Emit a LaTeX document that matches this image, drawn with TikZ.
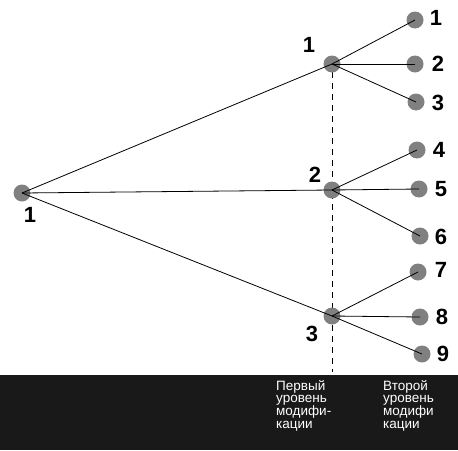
\documentclass[tikz,border=0pt]{standalone}
\usepackage{fontspec}
\setmainfont{Liberation Sans}
\begin{document}
\begin{tikzpicture}[x=1pt,y=-1pt,
  dot/.style={circle,fill=black!50,inner sep=0pt,minimum size=17pt},
  num/.style={font=\fontsize{22}{22}\selectfont\bfseries,inner sep=0pt},
  captext/.style={font=\fontsize{13.5}{12.6}\selectfont,text=white,align=left,anchor=north west,inner sep=0pt},
  edge/.style={draw=black,line width=0.8pt}]
\useasboundingbox (0,0) rectangle (458,450);
\fill[black!90] (0,375) rectangle (458,450);
\coordinate (dtop) at (332,72);
\coordinate (dbot) at (332,372);
\draw[line width=0.8pt,dash pattern=on 6pt off 5pt] (dtop) -- (dbot);
\node[dot] (r) at (22,193) {};
\node[dot] (a) at (332,64) {};
\node[dot] (b) at (332,190) {};
\node[dot] (c) at (332,316) {};
\node[dot] (l1) at (415,20) {};
\node[dot] (l2) at (415,64) {};
\node[dot] (l3) at (416,102) {};
\node[dot] (l4) at (417,150) {};
\node[dot] (l5) at (419,189) {};
\node[dot] (l6) at (420,236) {};
\node[dot] (l7) at (418,272) {};
\node[dot] (l8) at (420,317) {};
\node[dot] (l9) at (422,354) {};
\foreach \s/\t in {r/a,r/b,r/c,a/l1,a/l2,a/l3,b/l4,b/l5,b/l6,c/l7,c/l8,c/l9}
  \draw[edge] (\s.center) -- (\t.center);
\node[num] (tr) at (30,215) {1};
\node[num] (ta) at (309,45) {1};
\node[num] (tb) at (315,175) {2};
\node[num] (tc) at (312,334) {3};
\node[num] (t1) at (436,18) {1};
\node[num] (t2) at (438,64) {2};
\node[num] (t3) at (438,103) {3};
\node[num] (t4) at (439,150) {4};
\node[num] (t5) at (441,189) {5};
\node[num] (t6) at (441,237) {6};
\node[num] (t7) at (441,270) {7};
\node[num] (t8) at (442,317) {8};
\node[num] (t9) at (443,354) {9};
\node[captext] (p1) at (276,380) {Первый\\уровень\\модифи-\\кации};
\node[captext] (p2) at (383,380) {Второй\\уровень\\модифи\\кации};
\end{tikzpicture}
\end{document}
